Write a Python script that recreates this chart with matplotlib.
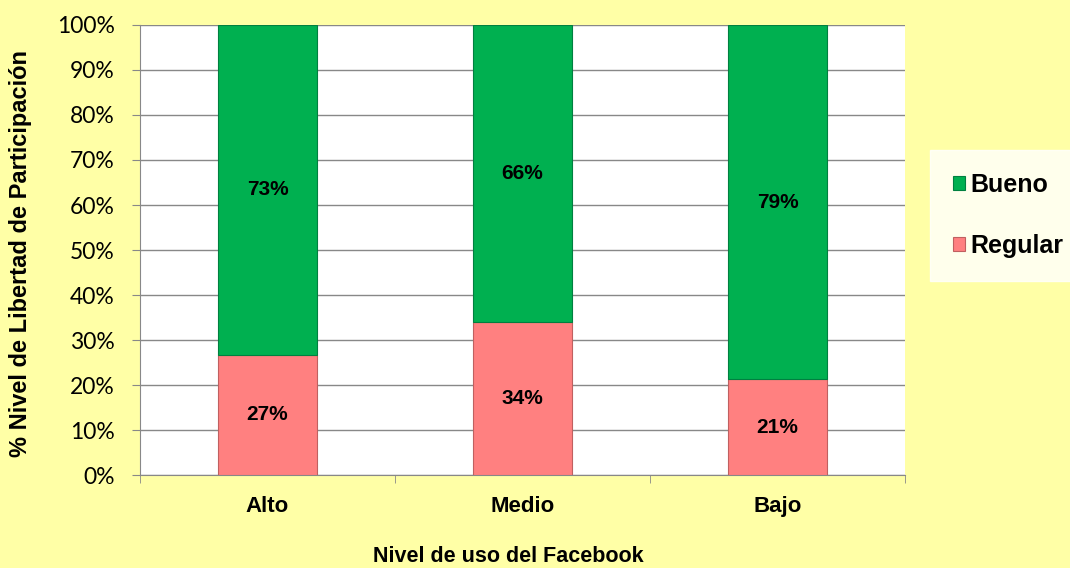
import matplotlib.pyplot as plt
import numpy as np

categorias = ["Alto", "Medio", "Bajo"]
regular = [26.7, 34.0, 21.3]
bueno = [73.3, 66.0, 78.7]
etiq_regular = ["27%", "34%", "21%"]
etiq_bueno = ["73%", "66%", "79%"]

fondo = "#FFFFA6"
c_regular = "#FF8080"
c_bueno = "#00B050"

fig = plt.figure(figsize=(10.7, 5.68), dpi=100, facecolor=fondo)
ax = fig.add_axes([0.1308, 0.1637, 0.715, 0.7923])
ax.set_facecolor("white")

x = np.arange(len(categorias))
w = 0.39
b1 = ax.bar(x, regular, w, color=c_regular, edgecolor="#C06060", linewidth=0.8,
            label="Regular", zorder=3)
b2 = ax.bar(x, bueno, w, bottom=regular, color=c_bueno, edgecolor="#008040",
            linewidth=0.8, label="Bueno", zorder=3)

for i in range(len(categorias)):
    ax.text(x[i], regular[i] / 2, etiq_regular[i], ha="center", va="center",
            fontsize=15, fontweight="bold", family="Liberation Sans", zorder=4)
    ax.text(x[i], regular[i] + bueno[i] / 2, etiq_bueno[i], ha="center", va="center",
            fontsize=15, fontweight="bold", family="Liberation Sans", zorder=4)

ax.set_xlim(-0.5, 2.5)
ax.set_ylim(0, 100)
ax.set_yticks(np.arange(0, 101, 10))
ax.set_yticklabels([f"{v}%" for v in range(0, 101, 10)], fontsize=16.5, family="Lato")
ax.set_xticks(x)
ax.set_xticklabels(categorias, fontsize=16, fontweight="bold", family="Liberation Sans")
ax.set_xticks([-0.5, 0.5, 1.5, 2.5], minor=True)
ax.tick_params(axis="x", which="major", length=0, pad=15)
ax.tick_params(axis="x", which="minor", length=6, color="#888888")
ax.tick_params(axis="y", length=6, color="#888888", pad=12)
ax.grid(axis="y", color="#888888", linewidth=1, zorder=0)

for s in ["top", "right"]:
    ax.spines[s].set_visible(False)
ax.spines["left"].set_color("#888888")
ax.spines["bottom"].set_color("#888888")

fig.text(0.0196, 0.553, "% Nivel de Libertad de Participación", rotation=90,
         ha="center", va="center", fontsize=17, fontweight="bold", family="Liberation Sans")
fig.text(0.475, 0.02, "Nivel de uso del Facebook", ha="center", va="center",
         fontsize=15.5, fontweight="bold", family="Liberation Sans")

handles = [b2, b1]
leg = ax.legend(handles, ["Bueno", "Regular"], loc="center left",
                bbox_to_anchor=(1.033, 0.577), frameon=True, fancybox=False,
                prop={"family": "Liberation Sans", "weight": "bold", "size": 18},
                handlelength=0.5, handleheight=0.5, handletextpad=0.2,
                labelspacing=1.5, borderpad=0.9, borderaxespad=0)
leg.get_frame().set_facecolor("white")
leg.get_frame().set_edgecolor("white")

fig.savefig("out.png", dpi=100, facecolor=fondo)
